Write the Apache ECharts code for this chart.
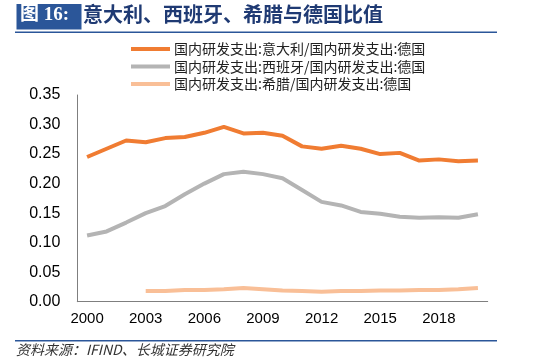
<!DOCTYPE html>
<html><head><meta charset="utf-8">
<script src="https://cdn.jsdelivr.net/npm/echarts@6/dist/echarts.min.js"></script>
<style>html,body{margin:0;padding:0;background:#fff}#c{width:550px;height:358px}</style>
</head><body><div id="c"></div>
<script>
var years = ['2000','2001','2002','2003','2004','2005','2006','2007','2008','2009','2010','2011','2012','2013','2014','2015','2016','2017','2018','2019','2020'];
var italy = [0.245,0.259,0.273,0.270,0.277,0.279,0.286,0.296,0.285,0.286,0.281,0.263,0.259,0.264,0.259,0.250,0.252,0.239,0.241,0.238,0.239];
var spain = [0.112,0.119,0.134,0.150,0.162,0.182,0.200,0.216,0.220,0.216,0.209,0.189,0.169,0.163,0.152,0.149,0.144,0.142,0.143,0.142,0.148];
var greece = [null,null,null,0.018,0.018,0.020,0.020,0.021,0.023,0.021,0.019,0.018,0.017,0.018,0.018,0.019,0.019,0.020,0.020,0.021,0.023];
var seriesNames = ['国内研发支出:意大利/国内研发支出:德国','国内研发支出:西班牙/国内研发支出:德国','国内研发支出:希腊/国内研发支出:德国'];
var colors = ['#F07C32','#B4B4B4','#F9BF97'];
var chart = echarts.init(document.getElementById('c'));
var font = 'Liberation Sans, Arial, sans-serif';
var cjk = 'Noto Sans CJK SC';
chart.setOption({
  animation:false,
  color:colors,
  grid:{left:77.3,right:62.3,top:95,bottom:56.3},
  legend:{orient:'vertical',left:126,top:37,itemWidth:39,itemHeight:4,itemGap:3.5,icon:'rect',
    textStyle:{fontFamily:cjk,fontSize:14,color:'#222',lineHeight:14,padding:[0,0,0,-1]},
    data:seriesNames},
  xAxis:{type:'category',data:years,boundaryGap:true,
    axisLine:{lineStyle:{color:'#7f7f7f',width:1}},
    axisTick:{interval:2,length:5,lineStyle:{color:'#7f7f7f'}},
    axisLabel:{interval:2,fontFamily:font,fontSize:15,color:'#000',margin:10}},
  yAxis:{type:'value',min:0,max:0.35,interval:0.05,splitLine:{show:false},
    axisLine:{show:true,lineStyle:{color:'#7f7f7f',width:1}},axisTick:{show:false},
    axisLabel:{fontFamily:font,fontSize:16,color:'#000',margin:17,formatter:function(v){return v.toFixed(2);}}},
  series:[
    {name:seriesNames[0],type:'line',data:italy,symbol:'none',lineStyle:{width:4,color:colors[0]}},
    {name:seriesNames[1],type:'line',data:spain,symbol:'none',lineStyle:{width:4,color:colors[1]}},
    {name:seriesNames[2],type:'line',data:greece,symbol:'none',lineStyle:{width:4,color:colors[2]}}
  ],
  graphic:[
    {type:'rect',shape:{x:16.5,y:4,width:65,height:25.5},style:{fill:'#2B5699'}},
    {type:'text',left:20,top:6,style:{text:'图 16:',fill:'#fff',font:'bold 19px "Liberation Serif", "Noto Sans CJK SC"'}},
    {type:'text',left:83,top:4,style:{text:'意大利、西班牙、希腊与德国比值',fill:'#1F3A73',font:'bold 20px "Noto Sans CJK SC"'}},
    {type:'rect',shape:{x:15,y:31.5,width:482,height:1.6},style:{fill:'#2B5699'}},
    {type:'rect',shape:{x:15,y:340,width:482,height:1.6},style:{fill:'#2B5699'}},
    {type:'text',left:16,top:343,style:{text:'资料来源：IFIND、长城证券研究院',fill:'#333',font:'italic 14px "Noto Sans CJK SC"'}}
  ]
});
</script></body></html>
